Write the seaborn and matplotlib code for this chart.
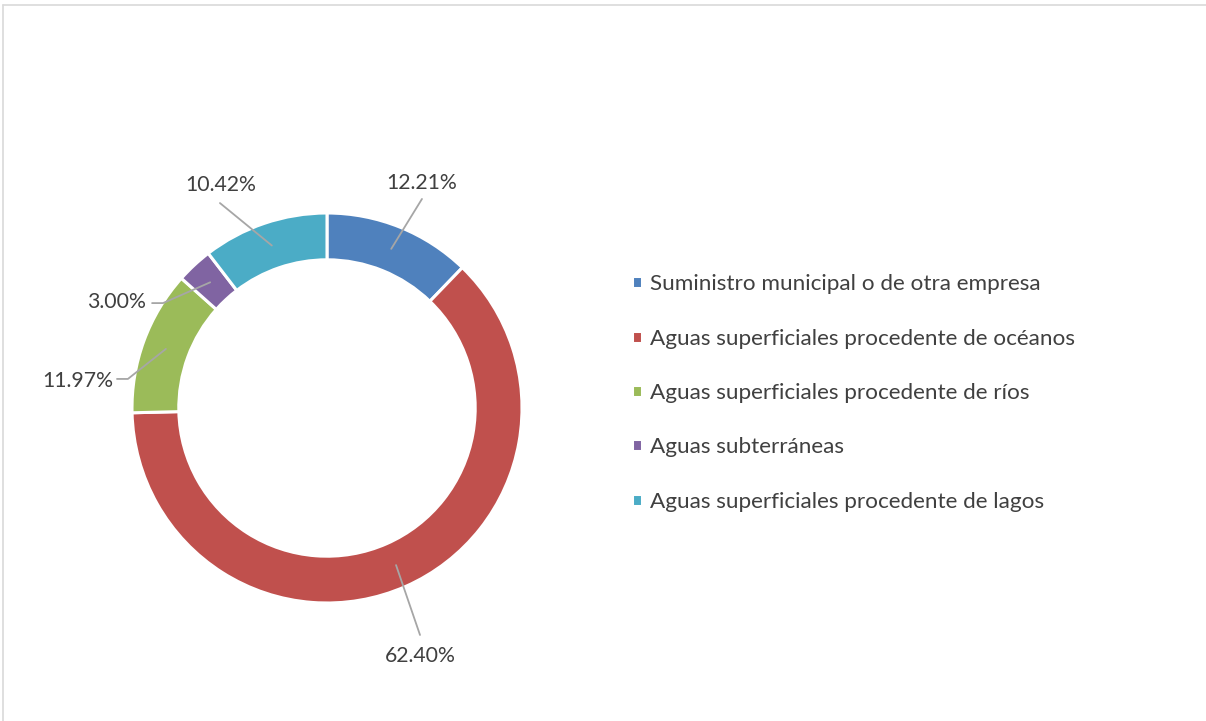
import numpy as np
import matplotlib
matplotlib.use("Agg")
import matplotlib.pyplot as plt
import seaborn as sns
from matplotlib.lines import Line2D

# Data
categories = [
    "Suministro municipal o de otra empresa",
    "Aguas superficiales procedente de océanos",
    "Aguas superficiales procedente de ríos",
    "Aguas subterráneas",
    "Aguas superficiales procedente de lagos",
]
values = [12.21, 62.40, 11.97, 3.00, 10.42]
colors = ["#4F81BD", "#C0504D", "#9BBB59", "#8064A2", "#4BACC6"]

sns.set_theme(style="white")
plt.rcParams["font.family"] = ["Lato", "DejaVu Sans"]
text_color = "#404040"

W, H = 1206, 721
fig = plt.figure(figsize=(W / 100, H / 100), dpi=100)

# pie axes: center (327, 408) px, radius 195 px
cx, cy, r_px, half = 327, 408, 195, 280
ax = fig.add_axes([(cx - half) / W, 1 - (cy + half) / H, 2 * half / W, 2 * half / H])
lim = half / r_px

wedges, _ = ax.pie(values, colors=colors, startangle=90, counterclock=False,
                   radius=1.0, wedgeprops=dict(width=0.24, edgecolor="white", linewidth=2.2))
ax.set_xlim(-lim, lim)
ax.set_ylim(-lim, lim)
ax.set_aspect("equal")
ax.axis("off")

# label layout: (elbow x, elbow y, end x, text x, text y, ha)
label_layout = [
    (0.487, 1.072, None, 0.487, 1.154, "center"),
    (0.477, -1.164, None, 0.477, -1.272, "center"),
    (-1.021, 0.149, -1.077, -1.095, 0.140, "right"),
    (-0.841, 0.538, -0.897, -0.930, 0.545, "right"),
    (-0.549, 1.051, None, -0.544, 1.144, "center"),
]

start = 90.0
for val, w, lay in zip(values, wedges, label_layout):
    mid = np.deg2rad(start - val * 3.6 / 2)
    start -= val * 3.6
    x0, y0 = 0.88 * np.cos(mid), 0.88 * np.sin(mid)
    ex, ey, hx, tx, ty, ha = lay
    xs, ys = [x0, ex], [y0, ey]
    if hx is not None:
        xs.append(hx)
        ys.append(ey)
    ax.add_line(Line2D(xs, ys, color="#A6A6A6", lw=1.3))
    ax.text(tx, ty, f"{val:.2f}%", ha=ha, va="center", fontsize=15.3, color=text_color)

leg = fig.legend(wedges, categories, loc="center left", bbox_to_anchor=(632 / W, 1 - 393 / H),
                 frameon=False, fontsize=16.2, labelcolor=text_color, borderpad=0, borderaxespad=0,
                 handlelength=0.45, handleheight=0.45, handletextpad=0.35, labelspacing=1.53)

# light frame along top and left edges
fig.add_artist(Line2D([2.5 / W, 1], [1 - 4.5 / H, 1 - 4.5 / H], transform=fig.transFigure,
                      color="#D9D9D9", lw=1.2))
fig.add_artist(Line2D([2.5 / W, 2.5 / W], [0, 1 - 4.5 / H], transform=fig.transFigure,
                      color="#D9D9D9", lw=1.2))

fig.savefig("out.png", dpi=100, facecolor="white")
